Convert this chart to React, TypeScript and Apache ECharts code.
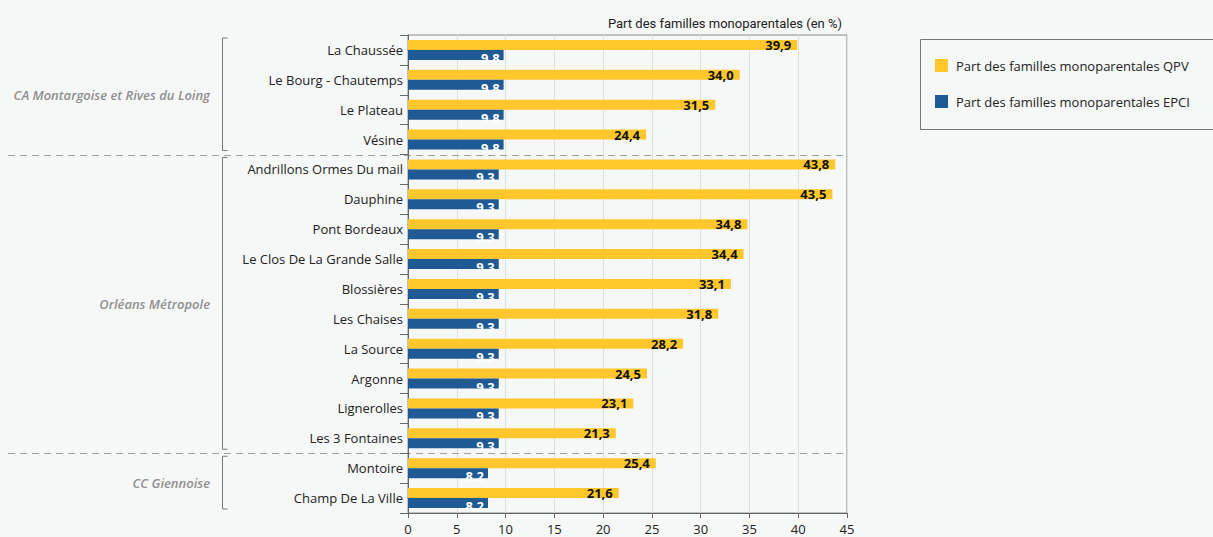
import React, { useEffect, useRef } from "react";
import * as echarts from "echarts";

const categories = [
  "La Chaussée",
  "Le Bourg - Chautemps",
  "Le Plateau",
  "Vésine",
  "Andrillons Ormes Du mail",
  "Dauphine",
  "Pont Bordeaux",
  "Le Clos De La Grande Salle",
  "Blossières",
  "Les Chaises",
  "La Source",
  "Argonne",
  "Lignerolles",
  "Les 3 Fontaines",
  "Montoire",
  "Champ De La Ville",
];

const qpvValues = [39.9, 34.0, 31.5, 24.4, 43.8, 43.5, 34.8, 34.4, 33.1, 31.8, 28.2, 24.5, 23.1, 21.3, 25.4, 21.6];
const epciValues = [9.8, 9.8, 9.8, 9.8, 9.3, 9.3, 9.3, 9.3, 9.3, 9.3, 9.3, 9.3, 9.3, 9.3, 8.2, 8.2];

const groups = [
  { name: "CA Montargoise et Rives du Loing", first: 0, last: 3 },
  { name: "Orléans Métropole", first: 4, last: 13 },
  { name: "CC Giennoise", first: 14, last: 15 },
];

const xTicks = { min: 0, max: 45, interval: 5 };

const seriesNames = ["Part des familles monoparentales QPV", "Part des familles monoparentales EPCI"];
const titleText = "Part des familles monoparentales (en %)";

const YELLOW = "#ffc72c";
const BLUE = "#1f5a95";

export default function App() {
  const ref = useRef<HTMLDivElement>(null);

  useEffect(() => {
    document.body.style.margin = "0";
    if (!ref.current) return;
    const chart = echarts.init(ref.current, undefined, { renderer: "svg" });
    const font = "'Open Sans', sans-serif";
    chart.setOption({
      animation: false,
      backgroundColor: "#f6f7f7",
      title: {
        text: titleText,
        right: 366,
        top: 12,
        textStyle: { fontFamily: "Roboto, sans-serif", fontSize: 13, fontWeight: "normal", color: "#222" },
      },
      legend: {
        orient: "vertical",
        left: 935,
        top: 59,
        padding: 0,
        itemWidth: 13,
        itemHeight: 13,
        itemGap: 23,
        icon: "rect",
        data: seriesNames,
        textStyle: { fontFamily: font, fontSize: 13, color: "#222", padding: [0, 0, 0, 3] },
      },
      grid: {
        left: 408,
        right: 366,
        top: 35,
        bottom: 24,
        show: true,
        borderColor: "#888",
        borderWidth: 1,
        containLabel: false,
      },
      xAxis: {
        type: "value",
        min: xTicks.min,
        max: xTicks.max,
        interval: xTicks.interval,
        axisLine: { show: true, lineStyle: { color: "#666" } },
        axisTick: { show: true, length: 5, lineStyle: { color: "#666" } },
        splitLine: { show: true, lineStyle: { color: "#dedede" } },
        axisLabel: { fontFamily: font, fontSize: 13, color: "#222", margin: 11, lineHeight: 10 },
      },
      yAxis: {
        type: "category",
        inverse: true,
        data: categories,
        axisLine: { show: true, lineStyle: { color: "#666" } },
        axisTick: { show: true, length: 8, lineStyle: { color: "#666" } },
        axisLabel: { fontFamily: font, fontSize: 13, color: "#222", margin: 5 },
      },
      series: [
        {
          name: seriesNames[0],
          type: "bar",
          data: qpvValues,
          barWidth: 10,
          barGap: "0%",
          itemStyle: { color: YELLOW },
          label: {
            show: true,
            position: "insideRight",
            distance: 6,
            formatter: (p: any) => Number(p.value).toFixed(1).replace(".", ","),
            fontFamily: font,
            fontWeight: "bold",
            fontSize: 13,
            color: "#111",
          },
        },
        {
          name: seriesNames[1],
          type: "bar",
          data: epciValues,
          barWidth: 10,
          barGap: "0%",
          itemStyle: { color: BLUE },
          label: {
            show: true,
            position: "insideRight",
            distance: 4,
            offset: [0, 3],
            formatter: (p: any) => Number(p.value).toFixed(1),
            fontFamily: font,
            fontWeight: "bold",
            fontSize: 13,
            color: "#fff",
          },
        },
      ],
    });

    const yOf = (i: number) => chart.convertToPixel({ yAxisIndex: 0 }, categories[i]) as number;
    const band = yOf(1) - yOf(0);
    const gridRight = chart.convertToPixel({ xAxisIndex: 0 }, xTicks.max) as number;
    const elements: any[] = [];
    groups.forEach((g, gi) => {
      const top = yOf(g.first) - band / 2;
      const bottom = yOf(g.last) + band / 2;
      const bx = 222.5;
      elements.push({
        type: "polyline",
        shape: { points: [[bx + 5, top + 3], [bx, top + 3], [bx, bottom - 4], [bx + 5, bottom - 4]] },
        style: { stroke: "#777", lineWidth: 1, fill: "none" },
        silent: true,
      });
      elements.push({
        type: "text",
        x: 210,
        y: (top + bottom) / 2,
        style: {
          text: g.name,
          align: "right",
          verticalAlign: "middle",
          fontFamily: font,
          fontStyle: "italic",
          fontWeight: 600,
          fontSize: 13,
          fill: "#8f8f8f",
        },
        silent: true,
      });
      if (gi < groups.length - 1) {
        const yy = Math.round(bottom) + 0.5;
        elements.push({
          type: "line",
          shape: { x1: 8, y1: yy, x2: gridRight, y2: yy },
          style: { stroke: "#a0a0a0", lineWidth: 1, lineDash: [7, 5] },
          silent: true,
        });
      }
    });
    elements.push({
      type: "rect",
      shape: { x: 920.5, y: 39.5, width: 320, height: 90 },
      style: { stroke: "#777", lineWidth: 1, fill: "none" },
      silent: true,
    });
    chart.setOption({ graphic: elements });

    return () => chart.dispose();
  }, []);

  return <div ref={ref} style={{ width: 1213, height: 537 }} />;
}
